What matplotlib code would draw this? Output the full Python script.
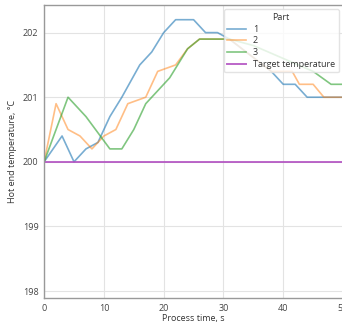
import matplotlib
matplotlib.use("Agg")
import matplotlib.pyplot as plt

# Data
t1 = [0, 3, 5, 7, 9, 11, 13, 16, 18, 20, 22, 25, 27, 29, 31, 38, 40, 42, 44, 50]
v1 = [200.0, 200.4, 200.0, 200.2, 200.3, 200.7, 201.0, 201.5, 201.7, 202.0, 202.2, 202.2,
      202.0, 202.0, 201.9, 201.4, 201.2, 201.2, 201.0, 201.0]
t2 = [0, 2, 4, 6, 8, 10, 12, 14, 17, 19, 22, 24, 26, 31, 38, 41.5, 42.7, 45, 46.8, 50]
v2 = [200.0, 200.9, 200.5, 200.4, 200.2, 200.4, 200.5, 200.9, 201.0, 201.4, 201.5, 201.75,
      201.9, 201.9, 201.4, 201.4, 201.2, 201.2, 201.0, 201.0]
t3 = [0, 4, 7, 11, 13, 15, 17, 21, 24, 26, 31, 35, 40, 45, 48, 50]
v3 = [200.0, 201.0, 200.7, 200.2, 200.2, 200.5, 200.9, 201.3, 201.75, 201.9, 201.9, 201.8,
      201.6, 201.4, 201.2, 201.2]
target_t = [0, 50]
target_v = [200.0, 200.0]
labels = ["1", "2", "3", "Target temperature"]
xticks = [0, 10, 20, 30, 40, 50]
yticks = [198, 199, 200, 201, 202]

plt.rcParams['font.family'] = ['Open Sans', 'DejaVu Sans']
fig = plt.figure(figsize=(3.42, 3.23), dpi=100)
ax = fig.add_axes([0.129, 0.077, 0.874, 0.908])

ax.plot(t1, v1, color='#1f77b4', alpha=0.6, lw=1.2, label=labels[0])
ax.plot(t2, v2, color='#ff7f0e', alpha=0.5, lw=1.2, label=labels[1])
ax.plot(t3, v3, color='#2ca02c', alpha=0.6, lw=1.2, label=labels[2])
ax.plot(target_t, target_v, color='#b04cc0', alpha=0.85, lw=1.4, label=labels[3])

ax.set_xlim(0, 50)
ax.set_ylim(197.89, 202.43)
ax.set_xticks(xticks)
ax.set_yticks(yticks)
ax.grid(True, color='#e3e3e3', lw=0.8)
ax.set_axisbelow(True)
for s in ax.spines.values():
    s.set_color('#999999')
    s.set_linewidth(1.0)
ax.tick_params(labelsize=6.5, colors='#444444', length=0, pad=4)
for lab in ax.get_xticklabels() + ax.get_yticklabels():
    lab.set_color('#444444')
ax.set_xlabel("Process time, s", fontsize=6.5, color='#333333', labelpad=1)
ax.set_ylabel("Hot end temperature, °C", fontsize=6.5, color='#333333', labelpad=4)

leg = ax.legend(title="Part", loc='upper right', fontsize=6.5, title_fontsize=6.5,
                frameon=True, framealpha=0.8, edgecolor='#dddddd',
                borderaxespad=0.5, handlelength=2.0, labelspacing=0.3)
leg.get_title().set_color('#333333')
for txt in leg.get_texts():
    txt.set_color('#333333')

fig.savefig("out.png", dpi=100)
